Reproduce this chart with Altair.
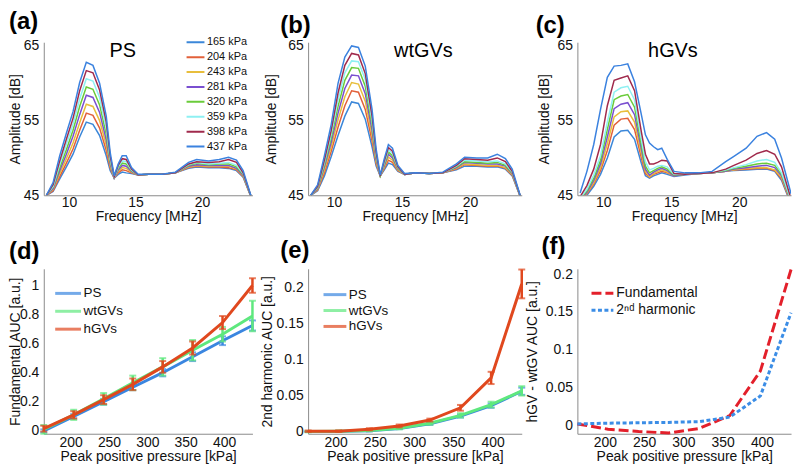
import altair as alt
import pandas as pd

FONT = "Liberation Sans"

# ---------------- top row: spectra ----------------
FREQ_MHZ = [8.3, 8.8, 9.3, 9.8, 10.3, 10.8, 11.3, 11.8, 12.3, 12.8, 13.1, 13.4, 13.7, 14.0,
            14.3, 14.7, 15.2, 16.0, 17.0, 18.0, 19.0, 19.6, 20.5, 21.3, 22.0, 22.6, 23.1, 23.8]
PRESSURES = [165, 204, 243, 281, 320, 359, 398, 437]
PRESSURE_LABELS = [f"{p} kPa" for p in PRESSURES]
SPECTRUM_COLORS = ["#3b87d9", "#e2603a", "#e8be3c", "#7a4fd0",
                   "#6acb3a", "#8ef0f2", "#a02a4c", "#3b82df"]

PS_SPECTRA = [
    [45.0, 45.5, 47.2, 48.8, 50.5, 52.8, 54.8, 54.5, 53.0, 50.3, 48.3, 47.3, 47.8, 48.1, 48.0, 47.9, 47.7, 47.8, 47.8, 48.0, 48.6, 48.8, 48.7, 48.7, 48.6, 48.3, 47.4, 44.3],
    [45.0, 45.6, 47.5, 49.3, 51.2, 53.7, 56.0, 55.7, 54.0, 51.0, 48.6, 47.3, 48.0, 48.4, 48.3, 48.0, 47.7, 47.8, 47.8, 48.0, 48.7, 48.9, 48.8, 48.8, 48.7, 48.4, 47.5, 44.3],
    [45.0, 45.8, 47.9, 49.9, 52.0, 54.7, 57.2, 56.9, 55.0, 51.7, 48.9, 47.3, 48.2, 48.7, 48.6, 48.1, 47.7, 47.8, 47.8, 48.0, 48.8, 49.0, 48.9, 48.9, 48.9, 48.5, 47.6, 44.3],
    [45.0, 45.9, 48.3, 50.5, 52.9, 55.8, 58.4, 58.1, 56.1, 52.4, 49.2, 47.3, 48.4, 49.0, 48.9, 48.2, 47.7, 47.8, 47.8, 48.0, 48.9, 49.1, 49.0, 49.0, 49.0, 48.6, 47.7, 44.3],
    [45.0, 46.1, 48.7, 51.1, 53.7, 56.9, 59.5, 59.2, 57.1, 53.2, 49.5, 47.4, 48.6, 49.3, 49.2, 48.3, 47.7, 47.8, 47.8, 48.0, 49.0, 49.3, 49.1, 49.2, 49.2, 48.8, 47.8, 44.3],
    [45.0, 46.2, 49.1, 51.8, 54.5, 57.9, 60.6, 60.3, 58.1, 54.0, 49.8, 47.4, 48.8, 49.6, 49.5, 48.4, 47.7, 47.8, 47.8, 48.0, 49.1, 49.4, 49.2, 49.3, 49.4, 49.0, 47.9, 44.3],
    [45.0, 46.4, 49.6, 52.5, 55.3, 59.0, 61.7, 61.4, 59.1, 54.8, 50.2, 47.5, 49.0, 49.9, 49.8, 48.5, 47.7, 47.8, 47.8, 48.0, 49.2, 49.5, 49.4, 49.5, 49.8, 49.4, 48.0, 44.3],
    [45.0, 46.7, 50.3, 53.3, 56.2, 60.1, 62.8, 62.4, 60.0, 55.6, 50.7, 47.6, 49.2, 50.3, 50.3, 48.7, 47.8, 47.8, 47.8, 48.1, 49.4, 49.8, 49.6, 49.8, 50.1, 49.7, 48.3, 44.3],
]
WT_SPECTRA = [
    [45.0, 45.6, 47.6, 50.2, 53.0, 55.6, 57.5, 57.3, 55.2, 51.5, 48.9, 47.6, 48.4, 49.3, 49.1, 48.2, 47.8, 48.0, 47.9, 48.0, 48.4, 48.9, 48.9, 48.8, 48.8, 48.5, 47.6, 44.3],
    [45.0, 45.7, 48.0, 50.9, 54.1, 57.0, 59.0, 58.8, 56.5, 52.3, 49.2, 47.6, 48.6, 49.7, 49.4, 48.3, 47.8, 48.0, 47.9, 48.0, 48.5, 49.1, 49.0, 48.9, 48.9, 48.6, 47.7, 44.3],
    [45.0, 45.8, 48.4, 51.5, 55.1, 58.2, 60.1, 59.9, 57.6, 53.0, 49.5, 47.6, 48.8, 50.1, 49.7, 48.4, 47.8, 48.0, 47.9, 48.0, 48.6, 49.2, 49.1, 49.0, 49.0, 48.7, 47.8, 44.3],
    [45.0, 45.9, 48.8, 52.1, 56.0, 59.3, 61.1, 61.0, 58.6, 53.7, 49.8, 47.6, 49.0, 50.5, 50.0, 48.5, 47.8, 48.0, 47.9, 48.0, 48.7, 49.4, 49.3, 49.2, 49.2, 48.9, 47.9, 44.3],
    [45.0, 46.0, 49.1, 52.7, 56.9, 60.4, 62.1, 62.0, 59.6, 54.4, 50.1, 47.6, 49.2, 50.8, 50.3, 48.6, 47.8, 48.0, 47.9, 48.0, 48.8, 49.5, 49.4, 49.3, 49.4, 49.0, 48.0, 44.3],
    [45.0, 46.1, 49.4, 53.2, 57.8, 61.4, 63.0, 62.9, 60.5, 55.0, 50.4, 47.6, 49.4, 51.1, 50.6, 48.7, 47.8, 48.0, 47.9, 48.0, 48.9, 49.7, 49.6, 49.5, 49.6, 49.2, 48.1, 44.3],
    [45.0, 46.2, 49.7, 53.7, 58.7, 62.4, 64.0, 63.8, 61.3, 55.6, 50.7, 47.6, 49.6, 51.4, 50.9, 48.8, 47.8, 48.0, 47.9, 48.0, 49.0, 49.9, 49.8, 49.7, 50.0, 49.5, 48.2, 44.3],
    [45.0, 46.4, 50.3, 54.5, 60.0, 63.5, 65.0, 64.8, 62.3, 56.5, 51.2, 47.7, 49.9, 51.8, 51.3, 49.0, 47.9, 48.0, 47.9, 48.1, 49.2, 50.1, 50.0, 50.0, 50.5, 49.9, 48.5, 44.3],
]
HGV_SPECTRA = [
    [44.0, 45.0, 46.2, 47.8, 50.0, 52.8, 53.6, 53.7, 52.5, 49.3, 47.6, 47.3, 47.6, 47.8, 48.0, 47.8, 47.5, 47.7, 47.9, 48.0, 48.2, 48.3, 48.4, 48.5, 48.5, 48.2, 47.0, 43.8],
    [44.2, 45.2, 46.5, 48.3, 51.0, 54.4, 55.2, 55.3, 53.8, 50.0, 47.9, 47.4, 47.8, 48.0, 48.2, 48.0, 47.6, 47.8, 47.9, 48.0, 48.2, 48.4, 48.5, 48.6, 48.6, 48.3, 47.2, 43.9],
    [44.3, 45.3, 46.7, 48.7, 51.9, 55.5, 56.2, 56.3, 54.8, 50.6, 48.2, 47.5, 47.9, 48.2, 48.4, 48.1, 47.6, 47.8, 47.9, 48.0, 48.2, 48.4, 48.6, 48.7, 48.7, 48.4, 47.4, 44.0],
    [44.4, 45.4, 47.0, 49.2, 52.8, 56.6, 57.2, 57.4, 55.8, 51.2, 48.5, 47.7, 48.1, 48.4, 48.6, 48.3, 47.6, 47.8, 47.9, 48.0, 48.2, 48.5, 48.7, 48.9, 49.0, 48.7, 47.6, 44.1],
    [44.5, 45.6, 47.3, 49.7, 53.8, 57.8, 58.3, 58.5, 56.8, 51.8, 48.9, 48.0, 48.3, 48.6, 48.8, 48.5, 47.7, 47.8, 47.9, 48.0, 48.3, 48.6, 48.9, 49.2, 49.3, 49.0, 47.8, 44.2],
    [44.6, 45.8, 47.7, 50.3, 54.8, 58.8, 59.4, 59.6, 57.8, 52.5, 49.5, 48.4, 48.6, 48.9, 49.0, 48.8, 47.8, 47.8, 47.9, 48.0, 48.4, 48.7, 49.1, 49.6, 49.8, 49.4, 48.0, 44.3],
    [44.8, 46.3, 48.5, 51.8, 57.0, 60.4, 60.7, 61.0, 59.0, 53.5, 50.5, 49.2, 49.2, 49.4, 49.7, 49.6, 47.9, 47.8, 47.9, 48.0, 48.5, 49.0, 49.7, 50.6, 51.0, 50.5, 48.8, 44.5],
    [45.3, 48.2, 51.8, 56.5, 60.8, 62.3, 62.4, 62.6, 60.2, 55.8, 53.1, 52.0, 51.5, 51.1, 51.3, 49.8, 48.2, 48.0, 48.0, 48.2, 49.5, 50.2, 51.3, 52.9, 53.4, 52.5, 50.0, 45.2],
]
PANEL_NAMES = ["PS", "wtGVs", "hGVs"]
PANEL_NAME_FREQ = [14.05, 16.57, 15.12]
PANEL_NAME_AMP = [63.5, 63.5, 63.5]

# ---------------- bottom row: AUC ----------------
PEAK_P = [165, 204, 243, 281, 320, 359, 398, 437]
GROUPS = ["PS", "wtGVs", "hGVs"]
GROUP_COLORS = ["#3a86e0", "#5ee87e", "#e0481e"]

FUND_PS = [0.0, 0.10, 0.20, 0.30, 0.40, 0.51, 0.62, 0.725]
FUND_PS_ERR = [0.01, 0.015, 0.02, 0.02, 0.025, 0.03, 0.03, 0.035]
FUND_WT = [0.01, 0.11, 0.22, 0.33, 0.44, 0.555, 0.665, 0.79]
FUND_WT_ERR = [0.03, 0.035, 0.04, 0.05, 0.06, 0.07, 0.05, 0.105]
FUND_HGV = [0.015, 0.11, 0.215, 0.32, 0.44, 0.57, 0.745, 1.0]
FUND_HGV_ERR = [0.02, 0.025, 0.03, 0.04, 0.04, 0.045, 0.045, 0.05]

HARM_PS = [0.0, 0.0003, 0.0013, 0.0044, 0.0108, 0.0215, 0.036, 0.056]
HARM_PS_ERR = [0.0005, 0.0005, 0.001, 0.001, 0.0015, 0.002, 0.003, 0.005]
HARM_WT = [0.0, 0.0004, 0.0015, 0.0047, 0.0115, 0.0225, 0.0375, 0.0565]
HARM_WT_ERR = [0.001, 0.001, 0.001, 0.0015, 0.002, 0.003, 0.004, 0.0065]
HARM_HGV = [0.0005, 0.0006, 0.0032, 0.0078, 0.016, 0.033, 0.0745, 0.205]
HARM_HGV_ERR = [0.001, 0.001, 0.0015, 0.002, 0.002, 0.004, 0.0085, 0.02]

DIFF_NAMES = ["Fundamental", "2\u207f\u1d48 harmonic"]
DIFF_COLORS = ["#e3202b", "#3b8de6"]
DIFF_FUND = [0.002, -0.005, -0.008, -0.010, -0.004, 0.013, 0.072, 0.206]
DIFF_HARM = [0.002, 0.003, 0.0035, 0.004, 0.005, 0.011, 0.039, 0.149]

AXIS_GRAY = "#8a8a8a"
TEXT = "#111111"


def panel_title(letter, dx, offset, dy):
    return alt.TitleParams(text=letter, anchor="start", frame="group", orient="top",
                           fontSize=24, fontWeight="bold", font=FONT, color="#000000",
                           dx=dx, dy=dy, offset=offset, baseline="bottom")


def spectra_panel(curves, idx, letter, width, title_dx, ytitle_x, legend=None):
    rows = []
    for lab, curve in zip(PRESSURE_LABELS, curves):
        for k, (f, a) in enumerate(zip(FREQ_MHZ, curve)):
            rows.append({"freq": f, "amp": a, "pressure": lab, "k": k})
    df = pd.DataFrame(rows)
    x = alt.X("freq:Q", scale=alt.Scale(domain=[8.1, 23.8], nice=False, zero=False),
              axis=alt.Axis(values=[10, 15, 20], title="Frequency [MHz]", labelPadding=0,
                            titleFontSize=14, titleY=25, titleBaseline="alphabetic"))
    y = alt.Y("amp:Q", scale=alt.Scale(domain=[45, 65.5], nice=False, zero=False),
              axis=alt.Axis(values=[45, 50, 55, 60, 65], title="Amplitude [dB]", labelPadding=5,
                            titleFontSize=14, titleX=ytitle_x, titleBaseline="bottom"))
    lines = alt.Chart(df).mark_line(strokeWidth=1.5, clip=True).encode(
        x=x, y=y,
        color=alt.Color("pressure:N", scale=alt.Scale(domain=PRESSURE_LABELS, range=SPECTRUM_COLORS),
                        legend=legend),
        order="k:Q",
    )
    name_df = pd.DataFrame({"freq": [PANEL_NAME_FREQ[idx]], "amp": [PANEL_NAME_AMP[idx]],
                            "name": [PANEL_NAMES[idx]]})
    name = alt.Chart(name_df).mark_text(fontSize=20, font=FONT, color="#000000", align="center",
                                        baseline="alphabetic").encode(x="freq:Q", y="amp:Q", text="name:N")
    return alt.layer(lines, name).properties(width=width, height=154,
                                             title=panel_title(letter, title_dx, -27, -4))


def auc_panel(means, errs, ydomain, yvalues, ytitle, letter, width, title_dx, ytitle_x, legend):
    rows = []
    for g, m, e in zip(GROUPS, means, errs):
        for p, v, s in zip(PEAK_P, m, e):
            rows.append({"p": p, "v": v, "lo": v - s, "hi": v + s, "g": g})
    df = pd.DataFrame(rows)
    x = alt.X("p:Q", scale=alt.Scale(domain=[165, 437], nice=False, zero=False),
              axis=alt.Axis(values=[200, 250, 300, 350, 400], title="Peak positive pressure [kPa]",
                            labelPadding=2, titleFontSize=14, titleY=27, titleBaseline="alphabetic"))
    yscale = alt.Scale(domain=ydomain, nice=False, zero=False)
    yaxis = alt.Axis(values=yvalues, format="~g", title=ytitle, labelPadding=5, titleFontSize=14,
                     titleX=ytitle_x, titleBaseline="bottom")
    color = alt.Color("g:N", scale=alt.Scale(domain=GROUPS, range=GROUP_COLORS), legend=legend)
    layers = []
    for g in GROUPS:
        base = alt.Chart(df).transform_filter(alt.datum.g == g)
        layers.append(base.mark_line(strokeWidth=3).encode(x=x, y=alt.Y("v:Q", scale=yscale, axis=yaxis),
                                                            color=color))
        layers.append(base.mark_rule(strokeWidth=2.5).encode(x=x, y=alt.Y("lo:Q", scale=yscale, axis=yaxis),
                                                              y2="hi:Q", color=color))
        layers.append(base.mark_tick(orient="horizontal", size=7, thickness=2).encode(
            x=x, y=alt.Y("lo:Q", scale=yscale, axis=yaxis), color=color))
        layers.append(base.mark_tick(orient="horizontal", size=7, thickness=2).encode(
            x=x, y=alt.Y("hi:Q", scale=yscale, axis=yaxis), color=color))
    return alt.layer(*layers).properties(width=width, height=166,
                                         title=panel_title(letter, title_dx, -8, 11))


def auc_legend(lx, ly, size, clip, fs):
    return alt.Legend(title=None, orient="none", legendX=lx, legendY=ly, symbolType="stroke",
                      symbolSize=size, symbolStrokeWidth=3, labelFontSize=fs, labelFont=FONT,
                      labelColor=TEXT, labelOffset=1, clipHeight=clip, rowPadding=0, padding=0)


spec_legend = alt.Legend(title=None, orient="none", legendX=142.7, legendY=-7.2, symbolType="stroke",
                         symbolSize=324, symbolStrokeWidth=2, labelFontSize=11, labelFont=FONT,
                         labelColor=TEXT, labelOffset=1.5, clipHeight=14.43, rowPadding=0, padding=0)

W1, W2, W3 = 210, 215, 215

a = spectra_panel(PS_SPECTRA, 0, "(a)", W1, -35, -21, legend=spec_legend)
b = spectra_panel(WT_SPECTRA, 1, "(b)", W2, -28, -30)
c = spectra_panel(HGV_SPECTRA, 2, "(c)", W3, -42, -26)

d = auc_panel([FUND_PS, FUND_WT, FUND_HGV], [FUND_PS_ERR, FUND_WT_ERR, FUND_HGV_ERR],
              [-0.02, 1.115], [0, 0.2, 0.4, 0.6, 0.8, 1], "Fundamental AUC [a.u.]", "(d)", W1, -35, -21,
              auc_legend(10, 16, 676, 17.5, 13.5))
e = auc_panel([HARM_PS, HARM_WT, HARM_HGV], [HARM_PS_ERR, HARM_WT_ERR, HARM_HGV_ERR],
              [-0.003, 0.226], [0, 0.05, 0.1, 0.15, 0.2], "2nd harmonic AUC [a.u.]", "(e)", W2, -28, -34,
              auc_legend(14, 18, 529, 16, 13.5))

# panel f
frows = []
for nm, vals in zip(DIFF_NAMES, [DIFF_FUND, DIFF_HARM]):
    for p, v in zip(PEAK_P, vals):
        frows.append({"p": p, "v": v, "s": nm})
fdf = pd.DataFrame(frows)
f_legend = alt.Legend(title=None, orient="none", legendX=12.7, legendY=16.4, symbolType="stroke",
                      symbolSize=484, symbolStrokeWidth=3, labelFontSize=14, labelFont=FONT,
                      labelColor=TEXT, labelOffset=1.5, clipHeight=16.6, rowPadding=0, padding=0)
f = alt.Chart(fdf).mark_line(strokeWidth=3).encode(
    x=alt.X("p:Q", scale=alt.Scale(domain=[165, 437], nice=False, zero=False),
            axis=alt.Axis(values=[200, 250, 300, 350, 400], title="Peak positive pressure [kPa]",
                          labelPadding=2, titleFontSize=14, titleY=27, titleBaseline="alphabetic")),
    y=alt.Y("v:Q", scale=alt.Scale(domain=[-0.011, 0.207], nice=False, zero=False),
            axis=alt.Axis(values=[0, 0.05, 0.1, 0.15, 0.2], format="~g", title="hGV - wtGV AUC [a.u.]",
                          labelPadding=5, titleFontSize=14, titleX=-38, titleBaseline="bottom")),
    color=alt.Color("s:N", scale=alt.Scale(domain=DIFF_NAMES, range=DIFF_COLORS), legend=f_legend),
    strokeDash=alt.StrokeDash("s:N", scale=alt.Scale(domain=DIFF_NAMES, range=[[10, 4], [4, 2.5]]),
                              legend=f_legend),
).properties(width=W3, height=166, title=panel_title("(f)", -36, -8, 11))

chart = alt.concat(a, b, c, d, e, f, columns=3, spacing={"row": 74, "column": 56},
                   bounds="flush", align="each", padding=0).resolve_scale(
    color="independent", strokeDash="independent"
).resolve_legend(
    color="independent", strokeDash="independent"
).configure(
    font=FONT
).configure_view(stroke=None).configure_axis(
    domainColor=AXIS_GRAY, domainWidth=1, labelColor=TEXT, titleColor=TEXT, ticks=False, grid=False,
    labelFont=FONT, titleFont=FONT, titleFontWeight="normal", labelFontSize=14
)

chart.save("out.html", embed_options={"renderer": "svg", "actions": False})
